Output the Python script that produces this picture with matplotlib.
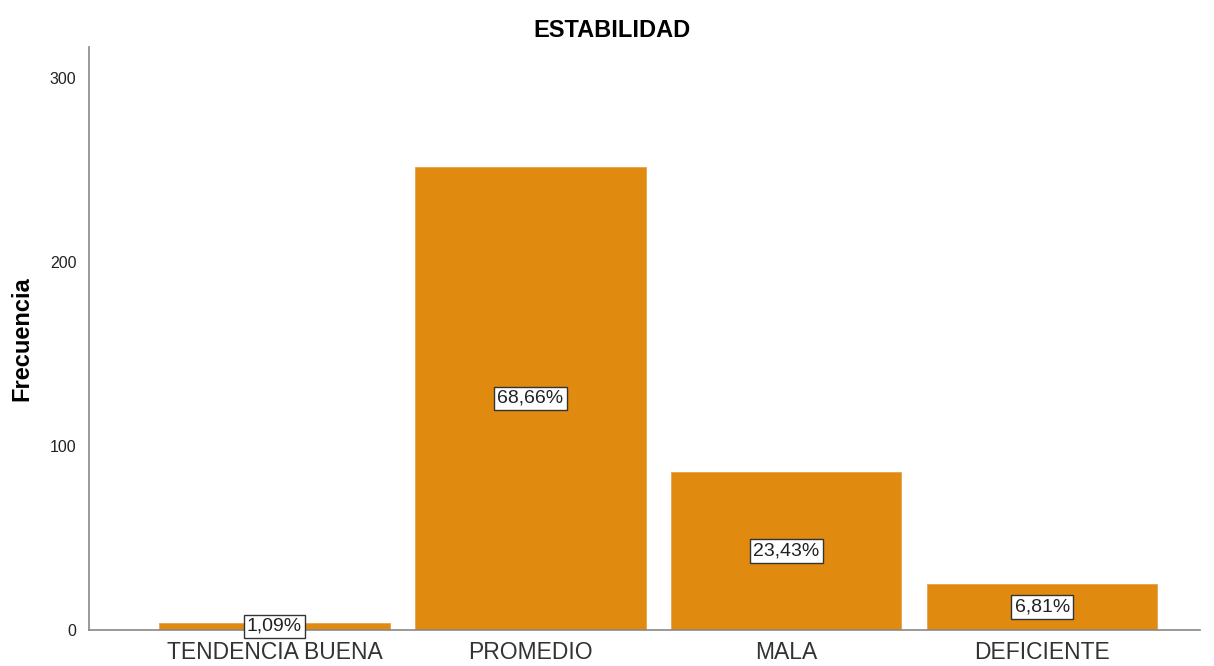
import matplotlib
matplotlib.use("Agg")
import matplotlib.pyplot as plt
import numpy as np

plt.rcParams['font.family'] = ['Liberation Sans', 'DejaVu Sans']

categories = ['TENDENCIA BUENA', 'PROMEDIO', 'MALA', 'DEFICIENTE']
counts = [4, 252, 86, 25]
pct_labels = ['1,09%', '68,66%', '23,43%', '6,81%']

fig = plt.figure(figsize=(12.14, 6.66), dpi=100)
ax = fig.add_axes([0.0733, 0.054, 0.9152, 0.8754])

x = np.arange(len(categories))
ax.bar(x, counts, width=0.9, color='#E08B10', edgecolor='#E6A24A', linewidth=0.6)

for xi, c, lab in zip(x, counts, pct_labels):
    ax.text(xi, c / 2, lab, ha='center', va='center', fontsize=14, color='#222222',
            bbox=dict(boxstyle='square,pad=0.16', facecolor='white', edgecolor='#333333', linewidth=1))

ax.set_xlim(-0.725, 3.617)
ax.set_ylim(0, 317)
ax.set_yticks([0, 100, 200, 300])
ax.set_xticks(x)
ax.set_xticklabels(categories, fontsize=16.5, color='#333333')
ax.tick_params(axis='y', labelsize=11.5, length=0, pad=9, colors='#222222')
ax.tick_params(axis='x', length=0, pad=8)

for s in ['top', 'right']:
    ax.spines[s].set_visible(False)
for s in ['left', 'bottom']:
    ax.spines[s].set_color('#888888')
    ax.spines[s].set_linewidth(1.2)

ax.set_ylabel('Frecuencia', fontsize=17, fontweight='bold')
ax.yaxis.set_label_coords(-0.05, 0.5)
fig.suptitle('ESTABILIDAD', fontsize=17, fontweight='bold', x=0.504, y=0.972, va='top')

fig.savefig('out.png', dpi=100)
